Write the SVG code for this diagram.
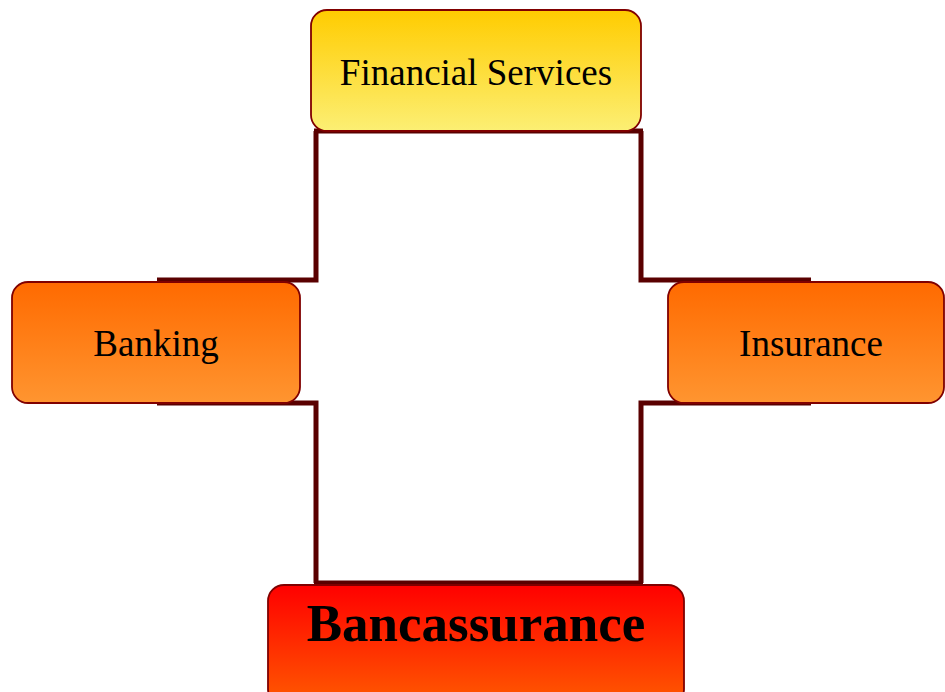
<svg xmlns="http://www.w3.org/2000/svg" width="945" height="692" viewBox="0 0 945 692">
  <defs>
    <linearGradient id="gYellow" x1="0" y1="0" x2="0" y2="1">
      <stop offset="0" stop-color="#FFCC00"/>
      <stop offset="1" stop-color="#FCEF74"/>
    </linearGradient>
    <linearGradient id="gOrange" x1="0" y1="0" x2="0" y2="1">
      <stop offset="0" stop-color="#FF6A00"/>
      <stop offset="1" stop-color="#FF9530"/>
    </linearGradient>
    <linearGradient id="gRed" x1="0" y1="0" x2="0" y2="1">
      <stop offset="0" stop-color="#FF0000"/>
      <stop offset="1" stop-color="#FF5A00"/>
    </linearGradient>
    <style>
      .box { stroke: #800000; stroke-width: 1.8; }
      .conn { fill: none; stroke: #5A0000; stroke-width: 5; stroke-linejoin: miter; }
      .lbl { font-family: "Liberation Serif", "Times New Roman", serif; fill: #000; text-anchor: middle; }
    </style>
  </defs>

  <!-- connectors -->
  <g id="connectors">
    <polyline class="conn" points="316,131 316,280 157,280"/>
    <polyline class="conn" points="157,403 316,403 316,583"/>
    <polyline class="conn" points="641,131 641,280 811,280"/>
    <polyline class="conn" points="811,403 641,403 641,583"/>
    <line class="conn" x1="314" y1="131" x2="643" y2="131"/>
    <line class="conn" x1="314" y1="583" x2="643" y2="583"/>
  </g>

  <g id="financial-services">
    <rect class="box" x="311" y="10" width="330" height="121" rx="16" fill="url(#gYellow)"/>
    <text class="lbl" x="476" y="85" font-size="37">Financial Services</text>
  </g>

  <g id="banking">
    <rect class="box" x="12" y="282" width="288" height="121" rx="16" fill="url(#gOrange)"/>
    <text class="lbl" x="156" y="356" font-size="37">Banking</text>
  </g>

  <g id="insurance">
    <rect class="box" x="668" y="282" width="276" height="121" rx="16" fill="url(#gOrange)"/>
    <text class="lbl" x="811" y="356" font-size="37">Insurance</text>
  </g>

  <g id="bancassurance">
    <rect class="box" x="268" y="585" width="416" height="120" rx="16" fill="url(#gRed)"/>
    <text class="lbl" x="476" y="641" font-size="53" font-weight="bold">Bancassurance</text>
  </g>
</svg>
